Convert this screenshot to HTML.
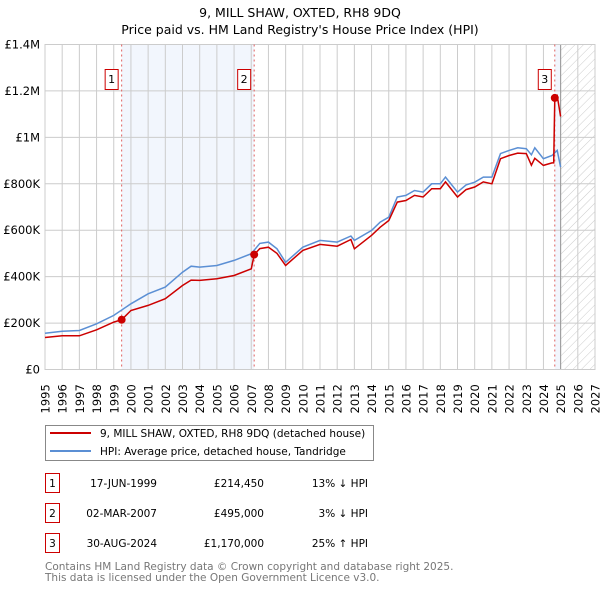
<!DOCTYPE html>
<html><head><meta charset="utf-8"><style>
body{margin:0;background:#fff;font-family:"DejaVu Sans","Liberation Sans",sans-serif;}
svg{display:block}
</style></head><body>
<svg id="chart" width="600" height="590" xmlns="http://www.w3.org/2000/svg" font-family="DejaVu Sans, Liberation Sans, sans-serif">
<text x="300" y="17" text-anchor="middle" font-size="12.5">9, MILL SHAW, OXTED, RH8 9DQ</text>
<text x="300" y="34" text-anchor="middle" font-size="12.5">Price paid vs. HM Land Registry's House Price Index (HPI)</text>
<defs><pattern id="hatch" patternUnits="userSpaceOnUse" width="6" height="6" patternTransform="rotate(45)"><line x1="0" y1="0" x2="0" y2="6" stroke="#ccc" stroke-width="1"/></pattern></defs>
<g id="grid"></g>
<g id="marks"></g>
<g id="legend">
<rect x="45.5" y="425.5" width="328" height="35" fill="#fff" stroke="#888"/>
<line x1="50" y1="433" x2="91" y2="433" stroke="#cc0000" stroke-width="2"/>
<text x="100" y="437" font-size="10.5">9, MILL SHAW, OXTED, RH8 9DQ (detached house)</text>
<line x1="50" y1="451" x2="91" y2="451" stroke="#5b8fd4" stroke-width="2"/>
<text x="100" y="455" font-size="10.5">HPI: Average price, detached house, Tandridge</text>
</g>
<g id="table" font-size="10.5"></g>
<text x="45" y="570" font-size="10.5" fill="#777">Contains HM Land Registry data © Crown copyright and database right 2025.</text>
<text x="45" y="581" font-size="10.5" fill="#777">This data is licensed under the Open Government Licence v3.0.</text>
</svg>
<script>
const hpiYears=[1995,1996,1997,1998,1999,2000,2001,2002,2003,2003.5,2004,2005,2006,2007,2007.5,2008,2008.5,2009,2010,2011,2012,2012.8,2013,2014,2014.5,2015,2015.5,2016,2016.5,2017,2017.5,2018,2018.3,2019,2019.5,2020,2020.5,2021,2021.5,2022,2022.5,2023,2023.3,2023.5,2024,2024.5,2024.8,2025];
const hpiValues=[156000,165000,168000,197000,233000,283000,326000,355000,419000,445000,441000,448000,470000,499000,543000,549000,520000,462000,527000,556000,549000,575000,556000,599000,635000,656000,743000,750000,771000,764000,800000,800000,829000,764000,795000,807000,829000,829000,930000,944000,955000,951000,925000,955000,908000,922000,944000,872000];
const redYears=[1995,1996,1997,1998,1999,1999.46,2000,2001,2002,2003,2003.5,2004,2005,2006,2007,2007.17,2007.5,2008,2008.5,2009,2010,2011,2012,2012.8,2013,2014,2014.5,2015,2015.5,2016,2016.5,2017,2017.5,2018,2018.3,2019,2019.5,2020,2020.5,2021,2021.5,2022,2022.5,2023,2023.3,2023.5,2024,2024.5,2024.6,2024.66,2024.8,2025];
const redValues=[138000,145000,145000,171000,204000,214450,254000,276000,305000,362000,385000,384000,391000,405000,434000,495000,521000,527000,500000,448000,513000,539000,531000,560000,520000,578000,613000,642000,721000,728000,750000,743000,779000,779000,808000,743000,775000,786000,808000,800000,908000,922000,932000,930000,880000,910000,879000,890000,890000,1170000,1180000,1090000];
const saleYears=[1999.46,2007.17,2024.66];
const saleValues=[214450,495000,1170000];
const saleLabels=["1","2","3"];
const saleDates=["17-JUN-1999","02-MAR-2007","30-AUG-2024"];
const salePrices=["£214,450","£495,000","£1,170,000"];
const saleDiffs=["13% ↓ HPI","3% ↓ HPI","25% ↑ HPI"];
const yTickValues=[0,200000,400000,600000,800000,1000000,1200000,1400000];
const yTickLabels=["£0","£200K","£400K","£600K","£800K","£1M","£1.2M","£1.4M"];
const xTickYears=[1995,1996,1997,1998,1999,2000,2001,2002,2003,2004,2005,2006,2007,2008,2009,2010,2011,2012,2013,2014,2015,2016,2017,2018,2019,2020,2021,2022,2023,2024,2025,2026,2027];

const X0=45,X1=595,Y0=369.5,Y1=44.5;
const xs=y=>X0+(y-1995)/(2027-1995)*(X1-X0);
const ys=v=>Y0-v/1400000*(Y0-Y1);
const NS="http://www.w3.org/2000/svg";
function mk(tag,attrs,parent){const e=document.createElementNS(NS,tag);for(const k in attrs)e.setAttribute(k,attrs[k]);parent.appendChild(e);return e;}
const grid=document.getElementById('grid'),marks=document.getElementById('marks'),table=document.getElementById('table');
let r=mk('rect',{x:xs(saleYears[0]),y:Y1,width:xs(saleYears[1])-xs(saleYears[0]),height:Y0-Y1,fill:'#f2f6fd'},grid);


r=mk('rect',{x:xs(saleYears[2]),y:Y1,width:xs(2025)-xs(saleYears[2]),height:Y0-Y1,fill:'#f2f6fd'},grid);


r=mk('rect',{x:xs(2025),y:Y1,width:X1-xs(2025),height:Y0-Y1,fill:'url(#hatch)'},grid);


xTickYears.forEach(y=>{
 const l=mk('line',{x1:xs(y),x2:xs(y),y1:Y1,y2:Y0,stroke:'#cccccc'},grid);
 
 
 const t=mk('text',{x:0,y:0,transform:`translate(${xs(y)+4.5},${Y0+44}) rotate(-90)`,'font-size':'11.5'},grid);
 t.textContent=y;
 
 
});
yTickValues.forEach((v,i)=>{
 const l=mk('line',{x1:X0,x2:X1,y1:ys(v),y2:ys(v),stroke:'#cccccc'},grid);
 
 
 const t=mk('text',{x:40,y:ys(v)+4,'text-anchor':'end','font-size':'11.5'},grid);
 t.textContent=yTickLabels[i];
 
 
});
const nl=mk('line',{x1:xs(2025),x2:xs(2025),y1:Y1,y2:Y0,stroke:'#999'},grid);


saleYears.forEach((y,i)=>{
 const l=mk('line',{x1:xs(y),x2:xs(y),y1:Y1,y2:Y0,stroke:'#e06060','stroke-dasharray':'2,3'},marks);
 
 
});
function pathOf(xa,va){return xa.map((y,i)=>(i?'L':'M')+xs(y).toFixed(1)+','+ys(va[i]).toFixed(1)).join(' ');}
const hp=mk('path',{d:pathOf(hpiYears,hpiValues),fill:'none',stroke:'#5b8fd4','stroke-width':1.5},marks);


const rp=mk('path',{d:pathOf(redYears,redValues),fill:'none',stroke:'#cc0000','stroke-width':1.5},marks);


saleYears.forEach((y,i)=>{
 const c=mk('circle',{cx:xs(y),cy:ys(saleValues[i]),r:4,fill:'#cc0000'},marks);
 
 
 const bx=xs(y)-16.5;
 const b=mk('rect',{x:bx,y:69.5,width:13,height:20,fill:'#fff',stroke:'#cc0000'},marks);
 
 
 const t=mk('text',{x:bx+6.5,y:83,'text-anchor':'middle','font-size':'11'},marks);
 t.textContent=saleLabels[i];
 
 
 const ry=[483,513,543][i];
 const tb=mk('rect',{x:45.5,y:ry-9.5,width:14,height:19,fill:'#fff',stroke:'#cc0000'},table);
 
 
 let tt=mk('text',{x:52.5,y:ry+4,'text-anchor':'middle'},table);tt.textContent=saleLabels[i];
 
 
 tt=mk('text',{x:157,y:ry+4,'text-anchor':'end'},table);tt.textContent=saleDates[i];
 
 
 tt=mk('text',{x:264,y:ry+4,'text-anchor':'end'},table);tt.textContent=salePrices[i];
 
 
 tt=mk('text',{x:368,y:ry+4,'text-anchor':'end'},table);tt.textContent=saleDiffs[i];
 
 
});
const fr=mk('rect',{x:X0,y:Y1,width:X1-X0,height:Y0-Y1,fill:'none',stroke:'#cccccc'},grid);


</script>
</body></html>
